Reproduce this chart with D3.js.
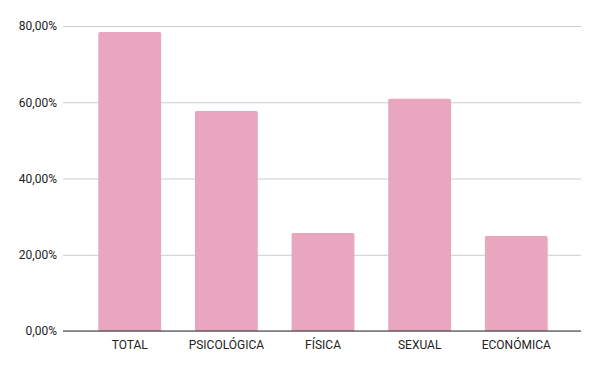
<!DOCTYPE html>
<html>
<head>
<meta charset="utf-8">
<script src="https://cdn.jsdelivr.net/npm/d3@7"></script>
<style>
  body { margin: 0; background: #fff; }
  text { font-family: Roboto, "Liberation Sans", sans-serif; }
</style>
</head>
<body>
<svg id="chart" width="600" height="371"></svg>
<script>
// categories and values (percent)
const categories = [ "TOTAL", "PSICOLÓGICA", "FÍSICA", "SEXUAL", "ECONÓMICA" ];
const values     = [ 78.4, 57.7, 25.7, 60.9, 24.9 ];
const yTicks     = [ 0, 20, 40, 60, 80 ];

const width  = 600;
const height = 371;
const margin = { top: 26, right: 19, bottom: 40, left: 63 };

const svg = d3.select( "#chart" );

const x = d3.scaleBand()
    .domain( categories )
    .range( [ margin.left + 1, width - margin.right + 1 ] )
    .paddingInner( 0.35 )
    .paddingOuter( 0.355 );

const y = d3.scaleLinear()
    .domain( [ 0, 80 ] )
    .range( [ height - margin.bottom, margin.top ] );

const fmt = v => v.toFixed( 2 ).replace( ".", "," ) + "%";

// gridlines + y labels
const yAxis = d3.axisLeft( y )
    .tickValues( yTicks )
    .tickSize( -( width - margin.left - margin.right ) )
    .tickFormat( fmt )
    .tickPadding( 6 );

svg.append( "g" )
    .attr( "transform", `translate(${ margin.left },0)` )
    .call( yAxis )
    .call( g => g.select( ".domain" ).remove() )
    .call( g => g.selectAll( "line" ).attr( "stroke", "#cccccc" ) )
    .call( g => g.selectAll( "text" )
        .attr( "fill", "#222" )
        .style( "font-size", "12px" ) );

// bars
svg.append( "g" )
    .selectAll( "path" )
    .data( categories )
    .join( "path" )
    .attr( "fill", "#e8a7bf" )
    .attr( "d", ( d, i ) =>
    {
        const x0 = x( d ), w = x.bandwidth();
        const y0 = y( values[ i ] ), y1 = y( 0 ), r = 1.5;
        return `M${ x0 },${ y1 }V${ y0 + r }Q${ x0 },${ y0 } ${ x0 + r },${ y0 }` +
               `H${ x0 + w - r }Q${ x0 + w },${ y0 } ${ x0 + w },${ y0 + r }V${ y1 }Z`;
    } );

// x axis
svg.append( "g" )
    .attr( "transform", `translate(0,${ y( 0 ) })` )
    .call( d3.axisBottom( x ).tickSize( 0 ).tickPadding( 9 ) )
    .call( g => g.select( ".domain" )
        .attr( "d", `M${ margin.left },0H${ width - margin.right }` )
        .attr( "stroke", "#333" ) )
    .call( g => g.selectAll( "text" )
        .attr( "fill", "#222" )
        .style( "font-size", "12px" ) );
</script>
</body>
</html>
